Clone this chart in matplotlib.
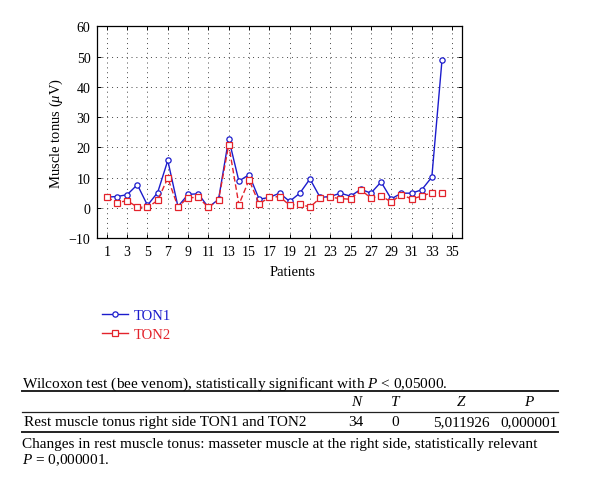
import matplotlib
matplotlib.use('Agg')
import matplotlib.pyplot as plt
from matplotlib.lines import Line2D

plt.rcParams['font.family'] = ['Liberation Serif', 'DejaVu Serif']
plt.rcParams['mathtext.fontset'] = 'custom'
plt.rcParams['mathtext.rm'] = 'Liberation Serif'
plt.rcParams['mathtext.it'] = 'Liberation Serif:italic'

# data (muscle tonus, microvolts)
patients = list(range(1, 35))
ton1 = [3.6, 3.8, 4.4, 7.7, 0.9, 5.1, 15.7, 0.5, 4.5, 4.7,
        0.2, 2.9, 22.9, 8.9, 11.0, 2.9, 3.5, 4.9, 2.2, 4.9,
        9.6, 3.5, 3.8, 4.9, 3.9, 6.2, 4.9, 8.6, 3.0, 4.9,
        4.9, 6.0, 10.2, 48.8]
ton2 = [3.6, 1.8, 2.4, 0.3, 0.2, 2.5, 9.9, 0.4, 3.4, 3.5,
        0.2, 2.7, 20.9, 1.1, 9.3, 1.4, 3.5, 3.8, 0.9, 1.3,
        0.3, 3.3, 3.6, 3.1, 2.9, 6.0, 3.3, 4.0, 2.0, 4.4,
        3.0, 3.9, 5.1, 4.9]

x_ticks = list(range(1, 36, 2))
y_ticks = list(range(-10, 61, 10))

table_head = ['N', 'T', 'Z', 'P']
table_row = ['Rest muscle tonus right side TON1 and TON2', '34', '0', '5,011926', '0,000001']

blue = '#1c1ccc'
red = '#e3232b'

W, H = 600, 489
fx = lambda px: px / W
fy = lambda py: 1 - py / H

fig = plt.figure(figsize=(6, 4.89), dpi=100)
ax = fig.add_axes([fx(96.7), fy(239.3), (462.3 - 96.7) / W, (239.3 - 27.3) / H])

ax.plot(patients, ton1, color=blue, linewidth=1.0, marker='o', markersize=3.8,
        markerfacecolor='white', markeredgewidth=0.9, label='TON1')
ax.plot(patients, ton2, color=red, linewidth=1.0, linestyle=(0, (4, 2)), marker='s',
        markersize=3.8, markerfacecolor='white', markeredgewidth=0.9, label='TON2')

ax.set_xlim(0, 36)
ax.set_ylim(-10, 60)
ax.set_xticks(x_ticks)
ax.set_yticks(y_ticks)
ax.tick_params(direction='in', length=3, width=0.7, top=True, right=True, labelsize=10)
ax.tick_params(axis='x', pad=5)
ax.tick_params(axis='y', pad=4.5)
ax.grid(True, linestyle=(0, (1, 4)), color='#444444', linewidth=0.7)
for s in ax.spines.values():
    s.set_linewidth(0.9)

ax.set_xlabel('Patients', fontsize=10.5)
ax.xaxis.set_label_coords((293 - 96.7) / 365.6, -(266 - 239.3) / 212)
ax.set_ylabel(r'Muscle tonus ($\mu$V)', fontsize=10.5)
ax.yaxis.set_label_coords(-(96.7 - 65) / 365.6, 0.5)

# legend below the plot
handles = [Line2D([], [], color=blue, linewidth=1.0, marker='o', markersize=3.8,
                  markerfacecolor='white', markeredgewidth=0.9),
           Line2D([], [], color=red, linewidth=1.0, marker='s', markersize=3.8,
                  markerfacecolor='white', markeredgewidth=0.9)]
fig.legend(handles, ['TON1', 'TON2'], loc='upper left', bbox_to_anchor=(fx(102), fy(310)),
           frameon=False, fontsize=10.5, handlelength=1.8, handletextpad=0.4,
           labelspacing=0.4, borderpad=0, borderaxespad=0, labelcolor=[blue, red])

# Wilcoxon table
fs = 11
left, right = 22, 558
fig.text(fx(left), fy(384), r'Wilcoxon test (bee venom), statistically significant with $P$ < 0,05000.',
         fontsize=fs, va='center', ha='left')
for y, lw in [(391.5, 1.4), (413, 0.9), (433, 1.4)]:
    fig.add_artist(Line2D([fx(left), fx(right)], [fy(y), fy(y)], color='#222222', linewidth=lw))
col_x = [356, 395, 461, 529]
for cx, h in zip(col_x, table_head):
    fig.text(fx(cx), fy(402.5), h, fontsize=fs, style='italic', ha='center', va='center')
fig.text(fx(left + 2), fy(423), table_row[0], fontsize=fs, ha='left', va='center')
for cx, v in zip(col_x, table_row[1:]):
    fig.text(fx(cx), fy(423), v, fontsize=fs, ha='center', va='center')
fig.text(fx(left), fy(445), 'Changes in rest muscle tonus: masseter muscle at the right side, statistically relevant',
         fontsize=fs, ha='left', va='center')
fig.text(fx(left), fy(460), r'$P$ = 0,000001.', fontsize=fs, ha='left', va='center')

fig.savefig('out.png', dpi=100)
